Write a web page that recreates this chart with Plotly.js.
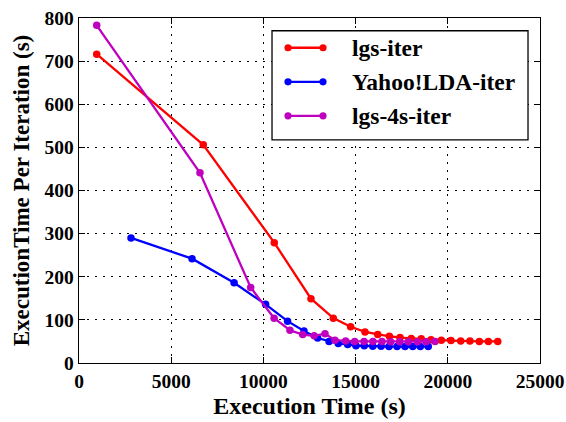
<!DOCTYPE html>
<html>
<head>
<meta charset="utf-8">
<script src="https://cdn.plot.ly/plotly-3.0.1.min.js"></script>
<style>html,body{margin:0;padding:0;background:#fff}#chart{width:566px;height:422px}</style>
</head>
<body>
<div id="chart"></div>
<script>
// Execution time per iteration vs. cumulative execution time
const seriesNames = ['lgs-iter', 'Yahoo!LDA-iter', 'lgs-4s-iter'];

const lgsTime = [960, 6740, 10590, 12580, 13790, 14730, 15510, 16200, 16830, 17410,
  18020, 18560, 19090, 19650, 20170, 20700, 21200, 21710, 22200, 22710];
const lgsIter = [716, 506, 279, 149, 104, 84, 72, 66, 62, 59,
  57, 56, 54, 53, 52, 51, 51, 50, 50, 50];

const yahooTime = [2820, 6130, 8410, 10120, 11310, 12200, 12940, 13560, 14060, 14570,
  15020, 15470, 15930, 16380, 16810, 17250, 17680, 18100, 18510, 18940];
const yahooIter = [290, 242, 186, 136, 97, 74, 58, 50, 45, 43,
  40, 40, 39, 39, 38, 38, 38, 38, 38, 38];

const lgs4sTime = [960, 6560, 9310, 10580, 11440, 12130, 12750, 13340, 13880, 14460,
  14950, 15460, 15940, 16430, 16900, 17390, 17860, 18350, 18820, 19310];
const lgs4sIter = [783, 441, 175, 104, 76, 66, 63, 68, 53, 51,
  50, 50, 50, 50, 49, 49, 49, 49, 49, 50];

const xTicks = [0, 5000, 10000, 15000, 20000, 25000];
const yTicks = [0, 100, 200, 300, 400, 500, 600, 700, 800];

const colors = ['#ff0000', '#0000ff', '#bf00bf'];
const xs = [lgsTime, yahooTime, lgs4sTime];
const ys = [lgsIter, yahooIter, lgs4sIter];

const serif = '"Liberation Serif", "Times New Roman", serif';

const traces = seriesNames.map((name, i) => ({
  type: 'scatter',
  mode: 'lines+markers',
  name: name,
  x: xs[i],
  y: ys[i],
  line: {color: colors[i], width: 2.3},
  marker: {color: colors[i], size: 7.5},
  showlegend: false
}));

// Legend box drawn in paper coordinates: line segment with a dot at each end, then the label
const legendBox = {x0: 0.4187, x1: 0.974, y0: 0.6466, y1: 0.9631};
const legendRows = [0.9138, 0.8151, 0.7164];
const legendLine = [0.4534, 0.5293];
const legendTextX = 0.5879;

const shapes = [{
  type: 'rect', xref: 'paper', yref: 'paper',
  x0: legendBox.x0, x1: legendBox.x1, y0: legendBox.y0, y1: legendBox.y1,
  line: {color: '#000', width: 1.3}, fillcolor: '#fff', layer: 'above'
}];
const annotations = [];
seriesNames.forEach((name, i) => {
  const yy = legendRows[i];
  shapes.push({
    type: 'line', xref: 'paper', yref: 'paper',
    x0: legendLine[0], x1: legendLine[1], y0: yy, y1: yy,
    line: {color: colors[i], width: 2.3}, layer: 'above'
  });
  legendLine.forEach(lx => {
    shapes.push({
      type: 'circle', xref: 'paper', yref: 'paper',
      xsizemode: 'pixel', ysizemode: 'pixel', xanchor: lx, yanchor: yy,
      x0: -3.6, x1: 3.6, y0: -3.6, y1: 3.6,
      line: {color: colors[i], width: 0}, fillcolor: colors[i], layer: 'above'
    });
  });
  annotations.push({
    xref: 'paper', yref: 'paper', x: legendTextX, y: yy,
    xanchor: 'left', yanchor: 'middle', showarrow: false,
    text: name,
    font: {family: serif, size: 23.5, color: '#000', weight: 'bold'}
  });
});

const axisCommon = {
  showline: true,
  linecolor: '#000',
  linewidth: 1.3,
  mirror: 'allticks',
  ticks: 'inside',
  ticklen: 6,
  tickwidth: 1,
  tickcolor: '#000',
  showgrid: true,
  gridcolor: '#000',
  gridwidth: 1,
  griddash: '2px,6px',
  zeroline: false,
  tickfont: {family: serif, size: 19.5, color: '#000', weight: 'bold'}
};

const layout = {
  width: 566,
  height: 422,
  margin: {l: 79, r: 26, t: 18, b: 59},
  paper_bgcolor: '#fff',
  plot_bgcolor: '#fff',
  showlegend: false,
  shapes: shapes,
  annotations: annotations,
  xaxis: Object.assign({}, axisCommon, {
    range: [0, 25000],
    tickvals: xTicks,
    ticktext: xTicks.map(String),
    title: {text: 'Execution Time (s)', font: {family: serif, size: 24, color: '#000', weight: 'bold'}, standoff: 6}
  }),
  yaxis: Object.assign({}, axisCommon, {
    range: [0, 800],
    tickvals: yTicks,
    ticktext: yTicks.map(String),
    title: {text: 'ExecutionTime Per Iteration (s)', font: {family: serif, size: 23, color: '#000', weight: 'bold'}, standoff: 8}
  })
};

Plotly.newPlot('chart', traces, layout, {displayModeBar: false, staticPlot: true});
</script>
</body>
</html>
